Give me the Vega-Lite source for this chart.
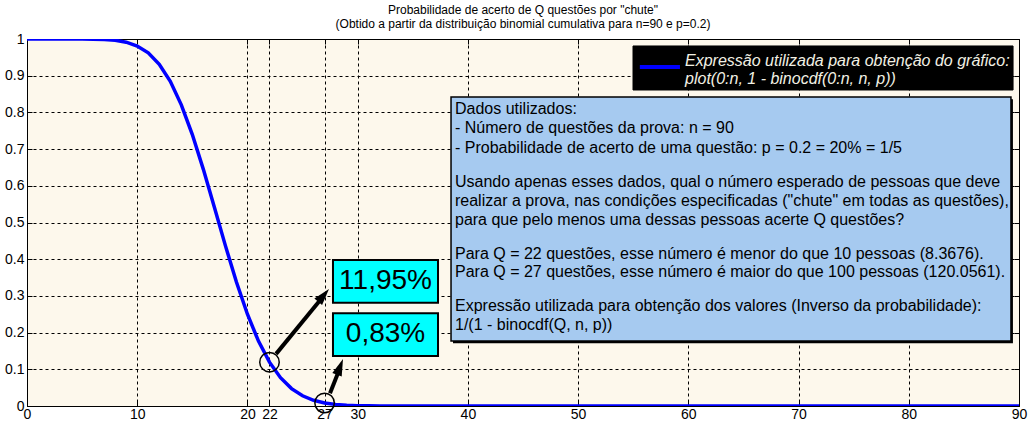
{
  "$schema": "https://vega.github.io/schema/vega-lite/v6.json",
  "width": 992,
  "height": 367,
  "autosize": {"type": "none"},
  "padding": {"left": 27, "top": 39, "right": 11, "bottom": 22},
  "background": "white",
  "config": {
    "font": "Liberation Sans",
    "view": {"fill": "#fdf8ec", "stroke": "black", "strokeWidth": 1}
  },
  "title": {
    "text": "Probabilidade de acerto de Q questões por \"chute\"",
    "subtitle": "(Obtido a partir da distribuição binomial cumulativa para n=90 e p=0.2)",
    "font": "Liberation Sans",
    "subtitleFont": "Liberation Sans",
    "fontSize": 12,
    "subtitleFontSize": 12,
    "fontWeight": "normal",
    "color": "black",
    "subtitleColor": "black",
    "anchor": "middle",
    "offset": 1,
    "subtitlePadding": 2
  },
  "datasets": {
    "curve": [
      {"k": 0, "p": 1}, {"k": 1, "p": 1}, {"k": 2, "p": 1}, {"k": 3, "p": 1}, {"k": 4, "p": 1},
      {"k": 5, "p": 0.9999}, {"k": 6, "p": 0.9996}, {"k": 7, "p": 0.9987}, {"k": 8, "p": 0.9965}, {"k": 9, "p": 0.9914},
      {"k": 10, "p": 0.981}, {"k": 11, "p": 0.9622}, {"k": 12, "p": 0.9312}, {"k": 13, "p": 0.8847}, {"k": 14, "p": 0.8207},
      {"k": 15, "p": 0.7397}, {"k": 16, "p": 0.6448}, {"k": 17, "p": 0.5415}, {"k": 18, "p": 0.437}, {"k": 19, "p": 0.3378},
      {"k": 20, "p": 0.25}, {"k": 21, "p": 0.1768}, {"k": 22, "p": 0.1195}, {"k": 23, "p": 0.0771}, {"k": 24, "p": 0.0474},
      {"k": 25, "p": 0.0278}, {"k": 26, "p": 0.0156}, {"k": 27, "p": 0.0083}, {"k": 28, "p": 0.0043}, {"k": 29, "p": 0.0021},
      {"k": 30, "p": 0.001}, {"k": 31, "p": 0.0004}, {"k": 32, "p": 0.0002}, {"k": 33, "p": 0.0001}, {"k": 34, "p": 0},
      {"k": 35, "p": 0}, {"k": 36, "p": 0}, {"k": 37, "p": 0}, {"k": 38, "p": 0}, {"k": 39, "p": 0},
      {"k": 40, "p": 0}, {"k": 41, "p": 0}, {"k": 42, "p": 0}, {"k": 43, "p": 0}, {"k": 44, "p": 0},
      {"k": 45, "p": 0}, {"k": 46, "p": 0}, {"k": 47, "p": 0}, {"k": 48, "p": 0}, {"k": 49, "p": 0},
      {"k": 50, "p": 0}, {"k": 51, "p": 0}, {"k": 52, "p": 0}, {"k": 53, "p": 0}, {"k": 54, "p": 0},
      {"k": 55, "p": 0}, {"k": 56, "p": 0}, {"k": 57, "p": 0}, {"k": 58, "p": 0}, {"k": 59, "p": 0},
      {"k": 60, "p": 0}, {"k": 61, "p": 0}, {"k": 62, "p": 0}, {"k": 63, "p": 0}, {"k": 64, "p": 0},
      {"k": 65, "p": 0}, {"k": 66, "p": 0}, {"k": 67, "p": 0}, {"k": 68, "p": 0}, {"k": 69, "p": 0},
      {"k": 70, "p": 0}, {"k": 71, "p": 0}, {"k": 72, "p": 0}, {"k": 73, "p": 0}, {"k": 74, "p": 0},
      {"k": 75, "p": 0}, {"k": 76, "p": 0}, {"k": 77, "p": 0}, {"k": 78, "p": 0}, {"k": 79, "p": 0},
      {"k": 80, "p": 0}, {"k": 81, "p": 0}, {"k": 82, "p": 0}, {"k": 83, "p": 0}, {"k": 84, "p": 0},
      {"k": 85, "p": 0}, {"k": 86, "p": 0}, {"k": 87, "p": 0}, {"k": 88, "p": 0}, {"k": 89, "p": 0},
      {"k": 90, "p": 0}
    ],
    "marked": [{"k": 22, "p": 0.1195}, {"k": 27, "p": 0.0083}],
    "arrows": [
      {"x1": 22.6, "y1": 0.142, "x2": 26.7, "y2": 0.292, "tx": 27.4, "ty": 0.3188, "ang": 40},
      {"x1": 27.49, "y1": 0.035, "x2": 28.35, "y2": 0.1, "tx": 28.67, "ty": 0.128, "ang": 21}
    ],
    "cyanboxes": [
      {"x1": 27.76, "x2": 37.29, "y1": 0.398, "y2": 0.281, "cx": 32.53, "cy": 0.340, "label": "11,95%"},
      {"x1": 27.76, "x2": 37.29, "y1": 0.253, "y2": 0.136, "cx": 32.53, "cy": 0.195, "label": "0,83%"}
    ],
    "legendbox": [{"x1": 54.98, "x2": 89.46, "y1": 0.981, "y2": 0.861, "lx1": 55.6, "lx2": 59.24, "ly": 0.9237}],
    "legendtext": [
      {"x": 59.7, "y": 0.940, "t": "Expressão utilizada para obtenção do gráfico:"},
      {"x": 59.7, "y": 0.891, "t": "plot(0:n, 1 - binocdf(0:n, n, p))"}
    ],
    "infobox": [{"x1": 38.47, "x2": 89.27, "y1": 0.842, "y2": 0.177, "sx1": 38.65, "sx2": 89.45, "sy1": 0.836, "sy2": 0.171}],
    "infotext": [
      {"y": 0.809, "t": "Dados utilizados:"},
      {"y": 0.757, "t": "- Número de questões da prova: n = 90"},
      {"y": 0.703, "t": "- Probabilidade de acerto de uma questão: p = 0.2 = 20% = 1/5"},
      {"y": 0.610, "t": "Usando apenas esses dados, qual o número esperado de pessoas que deve"},
      {"y": 0.559, "t": "realizar a prova, nas condições especificadas (\"chute\" em todas as questões),"},
      {"y": 0.507, "t": "para que pelo menos uma dessas pessoas acerte Q questões?"},
      {"y": 0.414, "t": "Para Q = 22 questões, esse número é menor do que 10 pessoas (8.3676)."},
      {"y": 0.365, "t": "Para Q = 27 questões, esse número é maior do que 100 pessoas (120.0561)."},
      {"y": 0.272, "t": "Expressão utilizada para obtenção dos valores (Inverso da probabilidade):"},
      {"y": 0.221, "t": "1/(1 - binocdf(Q, n, p))"}
    ]
  },
  "layer": [
    {
      "data": {"name": "curve"},
      "mark": {"type": "line", "color": "#0000ff", "strokeWidth": 3.5, "clip": true},
      "encoding": {
        "x": {
          "field": "k", "type": "quantitative",
          "scale": {"domain": [0, 90], "nice": false, "zero": false},
          "axis": {
            "title": null, "values": [0, 10, 20, 22, 27, 30, 40, 50, 60, 70, 80, 90],
            "grid": true, "gridColor": "black", "gridDash": [3, 3], "gridWidth": 1, "gridOpacity": 1,
            "domain": false, "ticks": true, "tickSize": -5, "tickColor": "black", "labelPadding": 6,
            "labelFont": "Liberation Sans", "labelFontSize": 14, "labelColor": "black",
            "labelFlush": false, "labelOverlap": false, "labelBound": false
          }
        },
        "y": {
          "field": "p", "type": "quantitative",
          "scale": {"domain": [0, 1], "nice": false, "zero": false},
          "axis": {
            "title": null, "values": [0, 0.1, 0.2, 0.3, 0.4, 0.5, 0.6, 0.7, 0.8, 0.9, 1], "format": ".1~f",
            "grid": true, "gridColor": "black", "gridDash": [3, 3], "gridWidth": 1, "gridOpacity": 1,
            "domain": false, "ticks": true, "tickSize": -5, "tickColor": "black", "labelPadding": 8,
            "labelFont": "Liberation Sans", "labelFontSize": 14, "labelColor": "black",
            "labelFlush": false, "labelOverlap": false, "labelBound": false
          }
        }
      }
    },
    {
      "data": {"name": "curve"},
      "mark": {"type": "line", "opacity": 0},
      "encoding": {
        "x": {
          "field": "k", "type": "quantitative",
          "axis": {"orient": "top", "title": null, "labels": false, "grid": false, "domain": false,
                   "values": [0, 10, 20, 22, 27, 30, 40, 50, 60, 70, 80, 90], "tickSize": -5, "tickColor": "black"}
        },
        "y": {
          "field": "p", "type": "quantitative",
          "axis": {"orient": "right", "title": null, "labels": false, "grid": false, "domain": false,
                   "values": [0, 0.1, 0.2, 0.3, 0.4, 0.5, 0.6, 0.7, 0.8, 0.9, 1], "tickSize": -5, "tickColor": "black"}
        }
      }
    },
    {
      "data": {"name": "marked"},
      "mark": {"type": "point", "shape": "circle", "filled": false, "stroke": "black", "strokeWidth": 1.5, "size": 380, "opacity": 1},
      "encoding": {
        "x": {"field": "k", "type": "quantitative", "axis": null},
        "y": {"field": "p", "type": "quantitative", "axis": null}
      }
    },
    {
      "data": {"name": "arrows"},
      "mark": {"type": "rule", "color": "black", "strokeWidth": 4},
      "encoding": {
        "x": {"field": "x1", "type": "quantitative", "axis": null},
        "y": {"field": "y1", "type": "quantitative", "axis": null},
        "x2": {"field": "x2"},
        "y2": {"field": "y2"}
      }
    },
    {
      "data": {"name": "arrows"},
      "mark": {"type": "point", "shape": "M0,0L0.45,1.5L-0.45,1.5Z", "filled": true, "color": "black", "opacity": 1, "size": 500},
      "encoding": {
        "x": {"field": "tx", "type": "quantitative", "axis": null},
        "y": {"field": "ty", "type": "quantitative", "axis": null},
        "angle": {"field": "ang", "type": "quantitative", "scale": null}
      }
    },
    {
      "data": {"name": "cyanboxes"},
      "mark": {"type": "rect", "fill": "#00ffff", "stroke": "black", "strokeWidth": 2},
      "encoding": {
        "x": {"field": "x1", "type": "quantitative", "axis": null},
        "x2": {"field": "x2"},
        "y": {"field": "y1", "type": "quantitative", "axis": null},
        "y2": {"field": "y2"}
      }
    },
    {
      "data": {"name": "cyanboxes"},
      "mark": {"type": "text", "font": "Liberation Sans", "fontSize": 28, "color": "black", "align": "center", "baseline": "middle"},
      "encoding": {
        "x": {"field": "cx", "type": "quantitative", "axis": null},
        "y": {"field": "cy", "type": "quantitative", "axis": null},
        "text": {"field": "label"}
      }
    },
    {
      "data": {"name": "legendbox"},
      "mark": {"type": "rect", "fill": "black", "stroke": "black", "strokeWidth": 1},
      "encoding": {
        "x": {"field": "x1", "type": "quantitative", "axis": null},
        "x2": {"field": "x2"},
        "y": {"field": "y1", "type": "quantitative", "axis": null},
        "y2": {"field": "y2"}
      }
    },
    {
      "data": {"name": "legendbox"},
      "mark": {"type": "rule", "color": "#0000ff", "strokeWidth": 4},
      "encoding": {
        "x": {"field": "lx1", "type": "quantitative", "axis": null},
        "x2": {"field": "lx2"},
        "y": {"field": "ly", "type": "quantitative", "axis": null}
      }
    },
    {
      "data": {"name": "legendtext"},
      "mark": {"type": "text", "font": "Liberation Sans", "fontSize": 16, "fontStyle": "italic", "color": "#f2f0e4", "align": "left", "baseline": "middle"},
      "encoding": {
        "x": {"field": "x", "type": "quantitative", "axis": null},
        "y": {"field": "y", "type": "quantitative", "axis": null},
        "text": {"field": "t"}
      }
    },
    {
      "data": {"name": "infobox"},
      "mark": {"type": "rect", "fill": "black"},
      "encoding": {
        "x": {"field": "sx1", "type": "quantitative", "axis": null},
        "x2": {"field": "sx2"},
        "y": {"field": "sy1", "type": "quantitative", "axis": null},
        "y2": {"field": "sy2"}
      }
    },
    {
      "data": {"name": "infobox"},
      "mark": {"type": "rect", "fill": "#a6caf0", "stroke": "black", "strokeWidth": 1.5},
      "encoding": {
        "x": {"field": "x1", "type": "quantitative", "axis": null},
        "x2": {"field": "x2"},
        "y": {"field": "y1", "type": "quantitative", "axis": null},
        "y2": {"field": "y2"}
      }
    },
    {
      "data": {"name": "infotext"},
      "mark": {"type": "text", "font": "Liberation Sans", "fontSize": 16, "color": "black", "align": "left", "baseline": "middle"},
      "encoding": {
        "x": {"datum": 38.83, "type": "quantitative", "axis": null},
        "y": {"field": "y", "type": "quantitative", "axis": null},
        "text": {"field": "t"}
      }
    }
  ],
  "resolve": {"axis": {"x": "independent", "y": "independent"}}
}
